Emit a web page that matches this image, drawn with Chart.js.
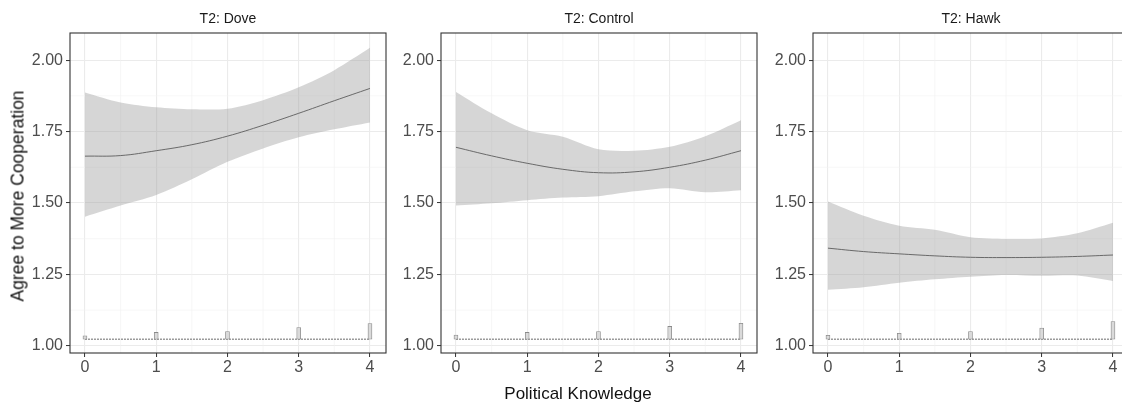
<!DOCTYPE html>
<html lang="en">
<head>
<meta charset="UTF-8">
<title>Agree to More Cooperation by Political Knowledge</title>
<script src="https://cdn.jsdelivr.net/npm/chart.js@4.4.1/dist/chart.umd.min.js"></script>
<style>
    body { margin: 0; width: 1122px; height: 410px; overflow: hidden; position: relative; background: #fff;
           font-family: "Liberation Sans", Arial, sans-serif; }
    canvas { position: absolute; top: 0; }
    #ylab { position: absolute; left: 18px; top: 196px; transform: translate(-50%, -50%) rotate(-90deg);
            white-space: nowrap; font-size: 17.5px; color: #111; }
    #xlab { position: absolute; left: 578px; top: 394px; transform: translate(-50%, -50%);
            white-space: nowrap; font-size: 17px; color: #111; }
</style>
</head>
<body>
<canvas id="dove" width="392" height="410" style="left:0px"></canvas>
<canvas id="control" width="392" height="410" style="left:371px"></canvas>
<canvas id="hawk" width="392" height="410" style="left:743px"></canvas>
<div id="ylab">Agree to More Cooperation</div>
<div id="xlab">Political Knowledge</div>
<script>

    // fitted curve + 95% band, read at every half point of knowledge
    const knowledge = [0, 0.5, 1, 1.5, 2, 2.5, 3, 3.5, 4];

    const doveFit   = [1.664, 1.666, 1.683, 1.704, 1.734, 1.772, 1.814, 1.858, 1.901];
    const doveUpper = [1.887, 1.852, 1.835, 1.828, 1.830, 1.860, 1.905, 1.965, 2.043];
    const doveLower = [1.452, 1.491, 1.528, 1.583, 1.644, 1.691, 1.730, 1.758, 1.782];

    const controlFit   = [1.695, 1.665, 1.639, 1.618, 1.606, 1.609, 1.625, 1.650, 1.683];
    const controlUpper = [1.889, 1.814, 1.755, 1.732, 1.688, 1.683, 1.697, 1.734, 1.790];
    const controlLower = [1.491, 1.499, 1.510, 1.519, 1.524, 1.541, 1.552, 1.538, 1.545];

    const hawkFit   = [1.342, 1.330, 1.322, 1.315, 1.310, 1.309, 1.310, 1.313, 1.318];
    const hawkUpper = [1.505, 1.455, 1.420, 1.406, 1.380, 1.374, 1.376, 1.394, 1.431];
    const hawkLower = [1.196, 1.205, 1.221, 1.233, 1.242, 1.248, 1.245, 1.246, 1.227];

    // small histogram of knowledge drawn along the bottom
    const levels = [0, 1, 2, 3, 4];
    const histBase = 1.023;
    const doveHist    = [1.035, 1.047, 1.050, 1.064, 1.078];
    const controlHist = [1.038, 1.047, 1.050, 1.068, 1.079];
    const hawkHist    = [1.037, 1.044, 1.050, 1.062, 1.085];

    const xTicks = [0, 1, 2, 3, 4];
    const yTicks = [1, 1.25, 1.5, 1.75, 2];
    const xMinor = [0.5, 1.5, 2.5, 3.5];
    const yMinor = [1.125, 1.375, 1.625, 1.875];

    const FONT = '"Liberation Sans", Arial, sans-serif';

    // theme_bw style: thin minor grid + full dark panel border
    const panelDecor = {
        id: 'panelDecor',
        beforeDatasetsDraw(chart) {
            const a = chart.chartArea;
            const ctx = chart.ctx;
            const sx = chart.scales.x, sy = chart.scales.y;
            ctx.save();
            ctx.strokeStyle = '#f2f2f2';
            ctx.lineWidth = 0.6;
            ctx.beginPath();
            xMinor.forEach(v => {
                const p = sx.getPixelForValue(v);
                ctx.moveTo(p, a.top); ctx.lineTo(p, a.bottom);
            });
            yMinor.forEach(v => {
                const p = sy.getPixelForValue(v);
                ctx.moveTo(a.left, p); ctx.lineTo(a.right, p);
            });
            ctx.stroke();
            ctx.restore();
        },
        afterDatasetsDraw(chart) {
            const a = chart.chartArea;
            const ctx = chart.ctx;
            ctx.save();
            ctx.strokeStyle = '#333333';
            ctx.lineWidth = 1.1;
            ctx.strokeRect(a.left, a.top, a.right - a.left, a.bottom - a.top);
            ctx.restore();
        }
    };

    const pts = (xs, ys) => xs.map((x, i) => ({x: x, y: ys[i]}));

    function makePanel(id, title, fit, upper, lower, hist) {
        const ctx = document.getElementById(id);
        return new Chart(ctx, {
            type: 'line',
            data: {
                datasets: [{
                    label: 'fit',
                    data: pts(knowledge, fit),
                    borderColor: '#5c5c5c',
                    borderWidth: 0.9,
                    pointRadius: 0,
                    tension: 0.4,
                    fill: false
                }, {
                    type: 'bar',
                    label: 'histogram',
                    data: levels.map((x, i) => ({x: x, y: [histBase, hist[i]]})),
                    barThickness: 4,
                    backgroundColor: '#dadada',
                    borderColor: '#8a8a8a',
                    borderWidth: 0.8,
                    borderSkipped: false
                }, {
                    label: 'baseline',
                    data: pts([levels[0], levels[levels.length - 1]], [histBase, histBase]),
                    borderColor: '#9a9a9a',
                    borderWidth: 1.6,
                    borderDash: [2, 1],
                    pointRadius: 0,
                    fill: false
                }, {
                    label: 'upper',
                    data: pts(knowledge, upper),
                    borderWidth: 0,
                    pointRadius: 0,
                    tension: 0.3,
                    backgroundColor: 'rgba(153,153,153,0.4)',
                    fill: '+1'
                }, {
                    label: 'lower',
                    data: pts(knowledge, lower),
                    borderWidth: 0,
                    pointRadius: 0,
                    tension: 0.3,
                    fill: false
                }]
            },
            options: {
                responsive: false,
                animation: false,
                layout: { padding: { left: 0, right: 6, top: 0, bottom: 0 } },
                plugins: {
                    legend: { display: false },
                    tooltip: { enabled: false },
                    title: {
                        display: true,
                        text: title,
                        fullSize: false,
                        color: '#1a1a1a',
                        font: { family: FONT, size: 14, weight: 'normal' },
                        padding: { top: 11, bottom: 5.2 }
                    }
                },
                scales: {
                    x: {
                        type: 'linear',
                        min: -0.21,
                        max: 4.225,
                        offset: false,
                        afterBuildTicks: s => { s.ticks = xTicks.map(v => ({value: v})); },
                        afterFit: s => { s.height = 57; },
                        border: { display: false },
                        grid: {
                            offset: false,
                            color: '#ebebeb',
                            lineWidth: 1.1,
                            tickColor: '#333333',
                            tickLength: 4,
                            tickWidth: 1
                        },
                        ticks: {
                            autoSkip: false,
                            maxRotation: 0,
                            padding: 1,
                            color: '#4d4d4d',
                            font: { family: FONT, size: 16 },
                            callback: v => String(v)
                        }
                    },
                    y: {
                        min: 0.975,
                        max: 2.095,
                        afterBuildTicks: s => { s.ticks = yTicks.map(v => ({value: v})); },
                        afterFit: s => { s.width = 70; },
                        border: { display: false },
                        grid: {
                            offset: false,
                            color: '#ebebeb',
                            lineWidth: 1.1,
                            tickColor: '#333333',
                            tickLength: 4,
                            tickWidth: 1
                        },
                        ticks: {
                            autoSkip: false,
                            padding: 3,
                            color: '#4d4d4d',
                            font: { family: FONT, size: 16 },
                            callback: v => v.toFixed(2)
                        }
                    }
                }
            },
            plugins: [panelDecor]
        });
    }

    makePanel('dove', 'T2: Dove', doveFit, doveUpper, doveLower, doveHist);
    makePanel('control', 'T2: Control', controlFit, controlUpper, controlLower, controlHist);
    makePanel('hawk', 'T2: Hawk', hawkFit, hawkUpper, hawkLower, hawkHist);

</script>
</body>
</html>
